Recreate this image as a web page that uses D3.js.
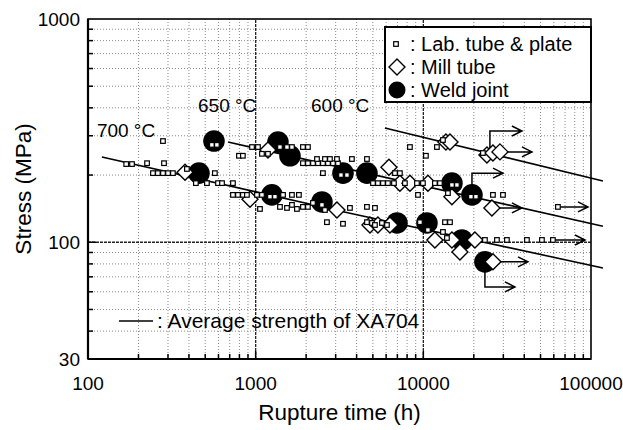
<!DOCTYPE html>
<html><head><meta charset="utf-8">
<script src="https://cdn.jsdelivr.net/npm/d3@7"></script>
<style>
html,body{margin:0;padding:0;background:#fff;}
svg{display:block;font-family:"Liberation Sans",Arial,Helvetica,sans-serif;}
</style></head><body>
<svg id="chart" width="623" height="430"></svg>
<script>
// ---- Data (rupture time h, stress MPa) ----
const labTime = [
  280,169,183,225,284, 244,261,280,300,321, 389,571, 440,512,596,630,732, 795,839, 951,1032,1090,1184,
  1396,1537,1646,1914,2050, 1914,2050,2196,2352,2518,2698,2890,3097, 2321,2590,2773,3054, 2518,
  732,784,839,887,1018,1090, 1456,1646,1811, 1061, 1396,1537,1646,1762,1914,2050, 2661,3317, 2196,2590, 3650,4610,5145,
  3750,4610, 6773,7248, 5007,5358,5741,6150,6680,7765,9160,9945,11720,12560, 9290,14020, 26010,29850,
  8318,10360,12050,13090,22660,
  4610,4938,5145,5663,6068, 9545,10650, 13460,14420, 13090,13830, 23300,27480,31510,41480,50970,
  548,587,1217,1303,3227,3503,14810,15860,19220,20590,2485,
  59270,63500
];
const labStress = [
  284,224,224,226,226, 204,204,204,204,204, 213,204, 184,184,184,184,184, 244,244, 267,267,249,249,
  267,267,267,267,267, 226,226,226,226,226,226,226,226, 236,236,236,236, 204,
  163,163,163,163,163,163, 163,163,163, 141, 144,142.5,147,141,144,144, 123,121, 150,139.5, 142.5,144,142.5,
  236,236, 204,204, 184,184,184,184,184,184,184,184,184,184, 163,166, 163,163,
  267,244,267,287,251,
  123,122,119.5,122,119.5, 123,113.5, 123,123, 111.2,104.5, 102.4,102.4,102.4,102.4,102.4,
  273,273,160,160,200,200,180.6,180.6,160,160,147,
  102.4,144
];
const millTime = [379,925,1184,3054,6237,7248,8318,10650,14810,25650,4805,5358,6322,11720,14810,16530,20310,26010,13640,14420,23950,26010,28640];
const millStress = [206,156,259,139.5,217,184,184,184,160,142.5,119.5,119.5,119.5,102.4,102.4,90.5,102.4,81.7,281,281,246,251,254];
const weldTime = [459,564,1358,1602,1250,2485,3317,4610,6962,10507,14810,19500,16990,23300];
const weldStress = [204,284,281,244,163,151.5,204,204,122,122,184,163,102.4,81.7];
// Unruptured (running) specimens: origin, stress level of the arrow, arrow end time
const runTime = [23300,26010,59270,63500,25650,19500,28640,24950];
const runStress = [81.7,81.7,102.4,144,142.5,163,254,254];
const runLevel = [63.1,81.7,102.4,144,142.5,204,254,315];
const runEnd = [35160,42060,92050,95950,38720,29850,44450,38720];
// Average strength of XA704
const avg700Time = [121,3650,117800], avg700Stress = [241,135,76.7];
const avg650Time = [684,117800], avg650Stress = [281,118];
const avg600Time = [5900,117800], avg600Stress = [325,188];
const tempLabels = ["700 °C","650 °C","600 °C"];
const tempLabelTime = [113,453,2139];
const tempLabelStress = [296,383,383];
const xTickValues = [100,1000,10000,100000];
const yTickValues = [30,100,1000];
const legendLabels = [": Lab. tube & plate", ": Mill tube", ": Weld joint"];

// ---- Layout ----
const W = 623, H = 430;
const m = {left:88, top:19, right:32, bottom:71};
const svg = d3.select("#chart");
const x = d3.scaleLog().domain([100,100000]).range([m.left, W-m.right]);
const y = d3.scaleLog().domain([30,1000]).range([H-m.bottom, m.top]);
const x0 = x.range()[0], x1 = x.range()[1], y0 = y.range()[0], y1 = y.range()[1];

function minors(lo, hi){
  const out=[];
  for(let d=lo; d<hi; d*=10) for(let k=1;k<10;k++){ const v=d*k; if(v>=lo && v<=hi) out.push(v); }
  return out;
}
const xMinor = minors(100,100000).filter(v=>!xTickValues.includes(v));
const yMinor = minors(10,1000).filter(v=>v>30 && !yTickValues.includes(v));

const g = svg.append("g");
// grid
g.selectAll(".vg").data(xMinor).join("line")
  .attr("x1",d=>x(d)).attr("x2",d=>x(d)).attr("y1",y0).attr("y2",y1)
  .attr("stroke","#8a8a8a").attr("stroke-width",1).attr("stroke-dasharray","1,2");
g.selectAll(".hg").data(yMinor).join("line")
  .attr("y1",d=>y(d)).attr("y2",d=>y(d)).attr("x1",x0).attr("x2",x1)
  .attr("stroke","#8a8a8a").attr("stroke-width",1).attr("stroke-dasharray","1,2");
g.selectAll(".vmg").data([1000,10000]).join("line")
  .attr("x1",d=>x(d)).attr("x2",d=>x(d)).attr("y1",y0).attr("y2",y1)
  .attr("stroke","#222").attr("stroke-width",1.3).attr("stroke-dasharray","3,1");
g.selectAll(".hmg").data([100]).join("line")
  .attr("y1",d=>y(d)).attr("y2",d=>y(d)).attr("x1",x0).attr("x2",x1)
  .attr("stroke","#222").attr("stroke-width",1.3).attr("stroke-dasharray","3,1");

// ticks (inside)
g.selectAll(".xt").data(xMinor.concat([1000,10000])).join("line")
  .attr("x1",d=>x(d)).attr("x2",d=>x(d)).attr("y1",y0).attr("y2",d=>y0-([1000,10000].includes(d)?8:5))
  .attr("stroke","#000").attr("stroke-width",1.5);
g.selectAll(".yt").data(yMinor.concat([100])).join("line")
  .attr("y1",d=>y(d)).attr("y2",d=>y(d)).attr("x1",x0).attr("x2",d=>x0+(d===100?8:5))
  .attr("stroke","#000").attr("stroke-width",1.5);

// frame
g.append("rect").attr("x",x0).attr("y",y1).attr("width",x1-x0).attr("height",y0-y1)
  .attr("fill","none").attr("stroke","#000").attr("stroke-width",1.6);
g.append("line").attr("x1",x0).attr("x2",x0).attr("y1",y1).attr("y2",y0).attr("stroke","#000").attr("stroke-width",2.2);
g.append("line").attr("x1",x0).attr("x2",x1).attr("y1",y0).attr("y2",y0).attr("stroke","#000").attr("stroke-width",2.2);

// tick labels
svg.selectAll(".xl").data(xTickValues).join("text")
  .attr("x",d=>x(d)).attr("y",y0+31).attr("text-anchor","middle")
  .attr("font-size",19).text(d=>d);
svg.selectAll(".yl").data(yTickValues).join("text")
  .attr("x",x0-8).attr("y",d=>y(d)+7).attr("text-anchor","end")
  .attr("font-size",19).text(d=>d);
svg.append("text").attr("x",(x0+x1)/2).attr("y",H-10).attr("text-anchor","middle")
  .attr("font-size",22.5).text("Rupture time (h)");
svg.append("text").attr("transform",`translate(31,${(y0+y1)/2}) rotate(-90)`).attr("text-anchor","middle")
  .attr("font-size",22.5).text("Stress (MPa)");

// average lines
const line = d3.line().x(d=>x(d[0])).y(d=>y(d[1]));
[[avg700Time,avg700Stress],[avg650Time,avg650Stress],[avg600Time,avg600Stress]].forEach(([t,s])=>{
  g.append("path").datum(t.map((v,i)=>[v,s[i]])).attr("d",line)
    .attr("fill","none").attr("stroke","#000").attr("stroke-width",1.6);
});

// running arrows
const runs = runTime.map((t,i)=>({t, s:runStress[i], lv:runLevel[i], e:runEnd[i]}));
runs.forEach(r=>{
  const xs=x(r.t), ys=y(r.s), yl=y(r.lv), xe=x(r.e);
  g.append("path").attr("d",`M${xs},${ys}L${xs},${yl}L${xe},${yl}M${xe-10},${yl-5}L${xe},${yl}L${xe-10},${yl+5}`)
    .attr("fill","none").attr("stroke","#000").attr("stroke-width",1.5);
});

// markers
const dia = (cx,cy,h)=>`M${cx},${cy-h}L${cx+h},${cy}L${cx},${cy+h}L${cx-h},${cy}Z`;
g.selectAll(".weld").data(weldTime.map((t,i)=>[t,weldStress[i]])).join("circle")
  .attr("cx",d=>x(d[0])).attr("cy",d=>y(d[1])).attr("r",10.8).attr("fill","#000");
g.selectAll(".mill").data(millTime.map((t,i)=>[t,millStress[i]])).join("path")
  .attr("d",d=>dia(x(d[0]),y(d[1]),8)).attr("fill","#fff").attr("stroke","#000").attr("stroke-width",1.4);
g.selectAll(".lab").data(labTime.map((t,i)=>[t,labStress[i]])).join("rect")
  .attr("x",d=>x(d[0])-2.3).attr("y",d=>y(d[1])-2.3).attr("width",4.6).attr("height",4.6)
  .attr("fill","#fff").attr("stroke","#000").attr("stroke-width",1.2);

// temperature labels
svg.selectAll(".tl").data(tempLabels).join("text")
  .attr("x",(d,i)=>x(tempLabelTime[i])).attr("y",(d,i)=>y(tempLabelStress[i]))
  .attr("font-size",19).text(d=>d);

// legend
const lg = svg.append("g");
lg.append("rect").attr("x",385).attr("y",27).attr("width",206).attr("height",75)
  .attr("fill","#fff").attr("stroke","#000").attr("stroke-width",2);
const rowsY = [44,67,90];
lg.append("rect").attr("x",396-2.3).attr("y",rowsY[0]-2.3).attr("width",4.6).attr("height",4.6)
  .attr("fill","#fff").attr("stroke","#000").attr("stroke-width",1.2);
lg.append("path").attr("d",dia(397,rowsY[1],8)).attr("fill","#fff").attr("stroke","#000").attr("stroke-width",1.4);
lg.append("circle").attr("cx",397).attr("cy",rowsY[2]).attr("r",8.5).attr("fill","#000");
lg.selectAll(".lt").data(legendLabels).join("text")
  .attr("x",410).attr("y",(d,i)=>rowsY[i]+7).attr("font-size",20).text(d=>d);

// average strength note
svg.append("line").attr("x1",119).attr("x2",153).attr("y1",321).attr("y2",321).attr("stroke","#000").attr("stroke-width",1.6);
svg.append("text").attr("x",157).attr("y",328).attr("font-size",21).text(": Average strength of XA704");
</script>
</body></html>
